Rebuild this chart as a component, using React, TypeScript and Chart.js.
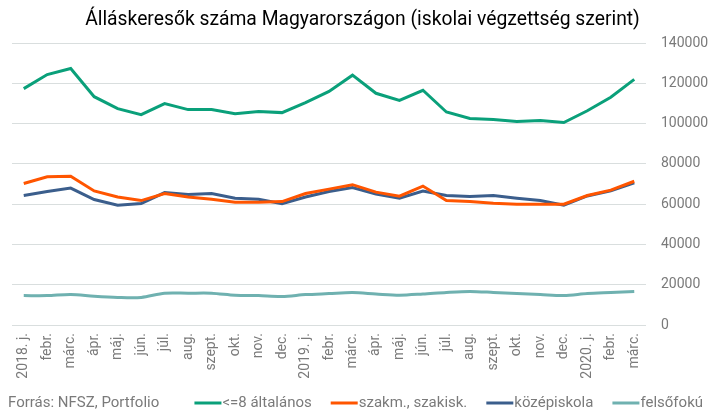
import React, { useEffect, useRef } from "react";
import { Chart, registerables } from "chart.js";

Chart.register(...registerables);

const TITLE = "Álláskeresők száma Magyarországon (iskolai végzettség szerint)";
const SOURCE = "Forrás: NFSZ, Portfolio";

const categories = [
  "2018. j.", "febr.", "márc.", "ápr.", "máj.", "jún.", "júl.", "aug.", "szept.", "okt.", "nov.", "dec.",
  "2019. j.", "febr.", "márc.", "ápr.", "máj.", "jún.", "júl.", "aug.", "szept.", "okt.", "nov.", "dec.",
  "2020. j.", "febr.", "márc.",
];

const seriesNames = ["<=8 általános", "szakm., szakisk.", "középiskola", "felsőfokú"];

const altalanos = [
  117400, 124400, 127400, 113400, 107500, 104500, 110000, 107000, 107000, 105000, 106000, 105500,
  110500, 116000, 124100, 115100, 111600, 116600, 105800, 102600, 102100, 101100, 101600, 100600,
  106400, 113100, 122000,
];
const szakmunkas = [
  70300, 73600, 73900, 66600, 63600, 61800, 65300, 63600, 62500, 61000, 61000, 61300,
  65300, 67500, 69700, 66000, 64000, 69000, 61800, 61300, 60500, 60000, 60000, 60000,
  64300, 67000, 71400,
];
const kozepiskola = [
  64300, 66300, 68000, 62300, 59500, 60300, 65800, 64800, 65300, 63000, 62500, 60300,
  63600, 66300, 68300, 65000, 63000, 66500, 64300, 63800, 64300, 63000, 61800, 59500,
  64100, 66600, 70600,
];
const felsofoku = [
  14600, 14600, 15200, 14300, 13700, 13700, 15800, 15800, 15800, 14800, 14600, 14200,
  15100, 15600, 16100, 15400, 14800, 15400, 16200, 16700, 16200, 15600, 15100, 14600,
  15600, 16100, 16600,
];

const colors = ["#0aa07a", "#ff5500", "#3b5e8c", "#6fb1b0"];
const FONT = "Roboto";
const GRAY = "#7a7a7a";

const bottomLegend = {
  id: "bottomLegend",
  afterDraw(chart: any) {
    const ctx = chart.ctx;
    const y = 403;
    ctx.save();
    ctx.font = `15px ${FONT}`;
    ctx.fillStyle = GRAY;
    ctx.textBaseline = "middle";
    ctx.textAlign = "left";
    ctx.fillText(SOURCE, 8, y);
    const lineLen = 27;
    const gapText = 1;
    const gapItem = 19;
    const items = chart.data.datasets.map((d: any) => ({
      text: d.label,
      color: d.borderColor,
      w: ctx.measureText(d.label).width,
    }));
    let total = 0;
    items.forEach((it: any, i: number) => {
      total += lineLen + gapText + it.w + (i < items.length - 1 ? gapItem : 0);
    });
    let x = 703 - total;
    items.forEach((it: any) => {
      ctx.strokeStyle = it.color;
      ctx.lineWidth = 3;
      ctx.beginPath();
      ctx.moveTo(x, y);
      ctx.lineTo(x + lineLen, y);
      ctx.stroke();
      x += lineLen + gapText;
      ctx.fillText(it.text, x, y);
      x += it.w + gapItem;
    });
    ctx.restore();
  },
};

export default function App() {
  const ref = useRef<HTMLCanvasElement | null>(null);
  useEffect(() => {
    document.body.style.margin = "0";
    if (!ref.current) return;
    const data = [altalanos, szakmunkas, kozepiskola, felsofoku];
    const chart = new Chart(ref.current, {
      type: "line",
      data: {
        labels: categories,
        datasets: data.map((vals, i) => ({
          label: seriesNames[i],
          data: vals,
          borderColor: colors[i],
          backgroundColor: colors[i],
          borderWidth: 3,
          pointRadius: 0,
          tension: i === 3 ? 0.3 : 0,
          fill: false,
        })),
      },
      options: {
        animation: false,
        responsive: false,
        maintainAspectRatio: false,
        layout: { padding: { left: 12, right: 0, top: 0, bottom: 31 } },
        plugins: {
          legend: { display: false },
          tooltip: { enabled: false },
          title: {
            display: true,
            text: TITLE,
            color: "#000",
            font: { family: FONT, size: 19.3, weight: "normal" },
            padding: { top: 9, bottom: 11 },
          },
        },
        scales: {
          x: {
            type: "category",
            offset: true,
            grid: { display: false, drawTicks: false },
            border: { display: false },
            ticks: {
              autoSkip: false,
              minRotation: 90,
              maxRotation: 90,
              padding: 8,
              color: GRAY,
              font: { family: FONT, size: 14 },
            },
            afterFit: (s: any) => {
              s.height = 60;
            },
          },
          y: {
            position: "right",
            min: 0,
            max: 140000,
            grid: { color: "#d9dede", lineWidth: 1, drawTicks: false },
            border: { display: false },
            ticks: {
              stepSize: 20000,
              padding: 15,
              color: GRAY,
              font: { family: FONT, size: 14 },
              callback: (v: any) => String(v),
            },
            afterFit: (s: any) => {
              s.width = 67;
            },
          },
        },
      },
      plugins: [bottomLegend],
    });
    return () => chart.destroy();
  }, []);
  return (
    <div style={{ width: 713, height: 416, background: "#fff" }}>
      <canvas ref={ref} width={713} height={416} style={{ width: 713, height: 416, display: "block" }} />
    </div>
  );
}
